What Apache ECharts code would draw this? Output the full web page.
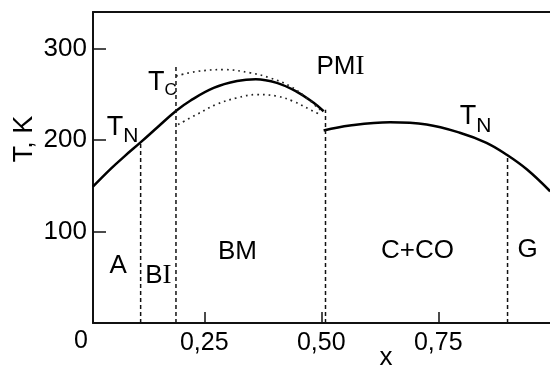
<!DOCTYPE html>
<html>
<head>
<meta charset="utf-8">
<script src="https://cdn.jsdelivr.net/npm/echarts@6/dist/echarts.min.js"></script>
<style>
html, body { margin: 0; padding: 0; background: #fff; }
#chart { width: 550px; height: 365px; }
</style>
</head>
<body>
<div id="chart"></div>
<script>
// axis range (frame starts a little right of x = 0)
const xMin = 0.0122, xMax = 0.9887
const yMin = 0, yMax = 340
const xTicks = [0.25, 0.5, 0.75]
const yTicks = [100, 200, 300]

// solid curve, left branch (T_N then T_C)
const lowX = [0.012, 0.05, 0.08, 0.115, 0.15, 0.19, 0.22, 0.27, 0.32, 0.36, 0.405, 0.447, 0.483, 0.505]
const lowT = [149, 168.5, 182.5, 198, 214, 232, 243, 257, 264.5, 266.5, 262.5, 253, 241, 231.5]

// solid curve, right branch (T_N)
const highX = [0.505, 0.561, 0.647, 0.725, 0.796, 0.853, 0.896, 0.939, 0.989]
const highT = [210.5, 216, 219.5, 217, 208, 197, 184, 168, 144]

// dotted bounds around T_C
const upX = [0.19, 0.234, 0.291, 0.348, 0.39, 0.433, 0.469, 0.497]
const upT = [270, 275, 277, 273.5, 268, 259, 246, 233]
const dnX = [0.194, 0.234, 0.276, 0.319, 0.362, 0.405, 0.44, 0.476, 0.497]
const dnT = [217, 228, 239, 246, 249.7, 248, 242.4, 233.3, 228]

// dashed phase boundaries
const bordX = [0.114, 0.1895, 0.509, 0.898]
const bordTop = [198, 281, 233, 183]

// region names
const regText = ['A', 'B{r|I}', 'BM', 'C+CO', 'G', 'PM{r|I}']
const regX = [0.066, 0.152, 0.321, 0.7056, 0.9406, 0.541]
const regT = [62, 52, 77.6, 78.7, 80.3, 280]

// transition temperature names
const trText = ['{t|T}{s|N}', '{c|T}{cs|C}', '{t|T}{s|N}']
const trX = [0.0414, 0.1297, 0.796]
const trT = [214.2, 263.4, 226]

const zip = (xs, ys) => xs.map((x, i) => [x, ys[i]])
const font = 'Liberation Sans, Arial, Helvetica, sans-serif'
const ink = '#000'

const chart = echarts.init(document.getElementById('chart'))

const series = []
const solid = { color: ink, width: 2.5 }
series.push({ type: 'line', data: zip(lowX, lowT), smooth: 0.4, symbol: 'none', lineStyle: solid })
series.push({ type: 'line', data: zip(highX, highT), smooth: 0.4, symbol: 'none', lineStyle: solid })
const dotted = { color: '#222', width: 1.7, type: [1.7, 4] }
series.push({ type: 'line', data: zip(upX, upT), smooth: 0.4, symbol: 'none', lineStyle: dotted })
series.push({ type: 'line', data: zip(dnX, dnT), smooth: 0.4, symbol: 'none', lineStyle: dotted })
bordX.forEach((x, i) => {
  series.push({
    type: 'line', data: [[x, 0], [x, bordTop[i]]], symbol: 'none',
    lineStyle: { color: '#111', width: 1.5, type: [4, 3] }
  })
})
// labels only, the points themselves are invisible
series.push({
  type: 'scatter',
  data: regX.map((x, i) => [x, regT[i], regText[i]]),
  symbolSize: 1,
  itemStyle: { color: 'rgba(0,0,0,0)', opacity: 1 },
  label: {
    show: true, position: 'inside', align: 'center', verticalAlign: 'middle',
    formatter: p => p.data[2],
    color: ink, fontFamily: font, fontSize: 26,
    rich: { r: { fontFamily: 'Liberation Serif, serif', fontSize: 27, color: ink } }
  }
})
series.push({
  type: 'scatter',
  data: trX.map((x, i) => [x, trT[i], trText[i]]),
  symbolSize: 1,
  itemStyle: { color: 'rgba(0,0,0,0)', opacity: 1 },
  label: {
    show: true, position: 'inside', align: 'left', verticalAlign: 'middle',
    formatter: p => p.data[2],
    rich: {
      t: { fontFamily: font, fontSize: 27, color: ink, lineHeight: 40, verticalAlign: 'middle' },
      s: { fontFamily: font, fontSize: 21, color: ink, lineHeight: 20, verticalAlign: 'bottom' },
      c: { fontFamily: font, fontSize: 27, color: ink, lineHeight: 34, verticalAlign: 'middle' },
      cs: { fontFamily: font, fontSize: 17, color: ink, lineHeight: 17, verticalAlign: 'bottom' }
    }
  }
})

const option = {
  animation: false,
  grid: { left: 93, right: 0, top: 12, bottom: 42, containLabel: false },
  xAxis: [{
    type: 'value', min: xMin, max: xMax,
    axisLine: { lineStyle: { color: '#111', width: 2 } },
    axisTick: { inside: true, length: 11, customValues: xTicks, lineStyle: { color: '#111', width: 1.5 } },
    axisLabel: {
      customValues: xTicks, margin: 8, color: ink, fontFamily: font, fontSize: 25,
      formatter: v => v.toFixed(2).replace('.', ',')
    },
    splitLine: { show: false }
  }, {
    type: 'value', min: xMin, max: xMax, position: 'top',
    axisLine: { show: true, lineStyle: { color: '#111', width: 2 } },
    axisTick: { show: false }, axisLabel: { show: false }, splitLine: { show: false }
  }],
  yAxis: {
    type: 'value', min: yMin, max: yMax,
    axisLine: { show: true, lineStyle: { color: '#111', width: 2 } },
    axisTick: { show: true, inside: true, length: 13, customValues: yTicks, lineStyle: { color: '#111', width: 1.5 } },
    axisLabel: { customValues: yTicks, margin: 6, color: ink, fontFamily: font, fontSize: 26 },
    splitLine: { show: false }
  },
  graphic: [
    { type: 'text', x: 81, y: 341, style: { text: '0', font: '25px ' + font, fill: ink, textAlign: 'center', textVerticalAlign: 'middle' } },
    { type: 'text', x: 386, y: 358, style: { text: 'x', font: '26px ' + font, fill: ink, textAlign: 'center', textVerticalAlign: 'middle' } },
    { type: 'text', x: 25, y: 139, rotation: Math.PI / 2, style: { text: 'T, K', font: '27px ' + font, fill: ink, textAlign: 'center', textVerticalAlign: 'middle' } }
  ],
  series: series
}
chart.setOption(option)
</script>
</body>
</html>
